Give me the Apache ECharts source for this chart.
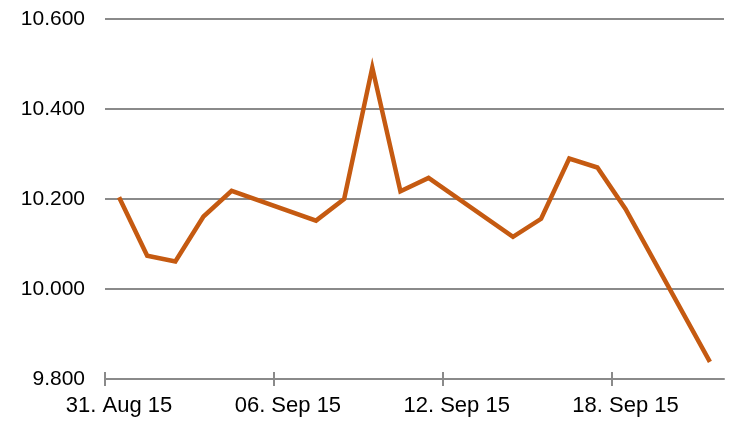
<!DOCTYPE html>
<html>
<head>
<meta charset="utf-8">
<script src="https://cdn.jsdelivr.net/npm/echarts@6/dist/echarts.min.js"></script>
<style>html,body{margin:0;padding:0;background:#fff}#c{width:729px;height:429px}</style>
</head>
<body>
<div id="c"></div>
<script>
var startDate = '2015-08-31';
var endDate = '2015-09-22';
var dates = ['2015-08-31','2015-09-01','2015-09-02','2015-09-03','2015-09-04',
             '2015-09-07','2015-09-08','2015-09-09','2015-09-10','2015-09-11',
             '2015-09-14','2015-09-15','2015-09-16','2015-09-17','2015-09-18',
             '2015-09-21'];
var values = [10204, 10074, 10061, 10161, 10218,
              10152, 10200, 10492, 10217, 10247,
              10116, 10156, 10290, 10270, 10178,
              9838];
var tickDates = ['2015-08-31','2015-09-06','2015-09-12','2015-09-18'];
var yTicks = [9800, 10000, 10200, 10400, 10600];
var monthNames = ['Jan','Feb','Mar','Apr','May','Jun','Jul','Aug','Sep','Oct','Nov','Dec'];

var DAY = 86400000;
function dayIndex(s){ return Math.round((Date.parse(s + 'T00:00:00Z') - Date.parse(startDate + 'T00:00:00Z')) / DAY); }
var xMax = dayIndex(endDate);
var seriesData = dates.map(function(d, i){ return [dayIndex(d) + 0.5, values[i]]; });
var tickPos = tickDates.map(dayIndex);
var labelPos = tickPos.map(function(t){ return t + 0.5; });

function fmtDate(v){
  var d = new Date(Date.parse(startDate + 'T00:00:00Z') + Math.floor(v) * DAY);
  var dd = ('0' + d.getUTCDate()).slice(-2);
  var yy = String(d.getUTCFullYear()).slice(-2);
  return dd + '. ' + monthNames[d.getUTCMonth()] + ' ' + yy;
}
function fmtNum(v){
  return String(Math.round(v)).replace(/\B(?=(\d{3})+(?!\d))/g, '.');
}

var font = 'Liberation Sans, Arial, sans-serif';
var gray = '#8a8a8a';
var chart = echarts.init(document.getElementById('c'), null, {renderer: 'canvas'});
chart.setOption({
  animation: false,
  backgroundColor: '#fff',
  grid: {left: 105, right: 5, top: 19, bottom: 50, containLabel: false},
  xAxis: [{
    type: 'value', min: 0, max: xMax,
    axisLine: {show: true, lineStyle: {color: gray, width: 2}},
    axisTick: {show: true, length: 7, customValues: tickPos, lineStyle: {color: gray, width: 2}},
    axisLabel: {formatter: fmtDate, customValues: labelPos, color: '#000', fontSize: 22, fontFamily: font, margin: 16},
    splitLine: {show: false}
  }, {
    type: 'value', min: 0, max: xMax, position: 'bottom',
    axisLine: {show: false},
    axisTick: {show: true, inside: true, length: 7, customValues: tickPos, lineStyle: {color: gray, width: 2}},
    axisLabel: {show: false},
    splitLine: {show: false}
  }],
  yAxis: {
    type: 'value', min: yTicks[0], max: yTicks[yTicks.length - 1], interval: 200,
    axisLine: {show: false}, axisTick: {show: false},
    axisLabel: {formatter: fmtNum, color: '#000', fontSize: 21, fontFamily: font, margin: 20},
    splitLine: {show: true, lineStyle: {color: gray, width: 2}}
  },
  series: [{
    type: 'line', xAxisIndex: 0, data: seriesData,
    showSymbol: false, symbol: 'none',
    lineStyle: {color: '#C55A11', width: 4.5, join: 'miter'},
    itemStyle: {color: '#C55A11'}
  }]
});
</script>
</body>
</html>
